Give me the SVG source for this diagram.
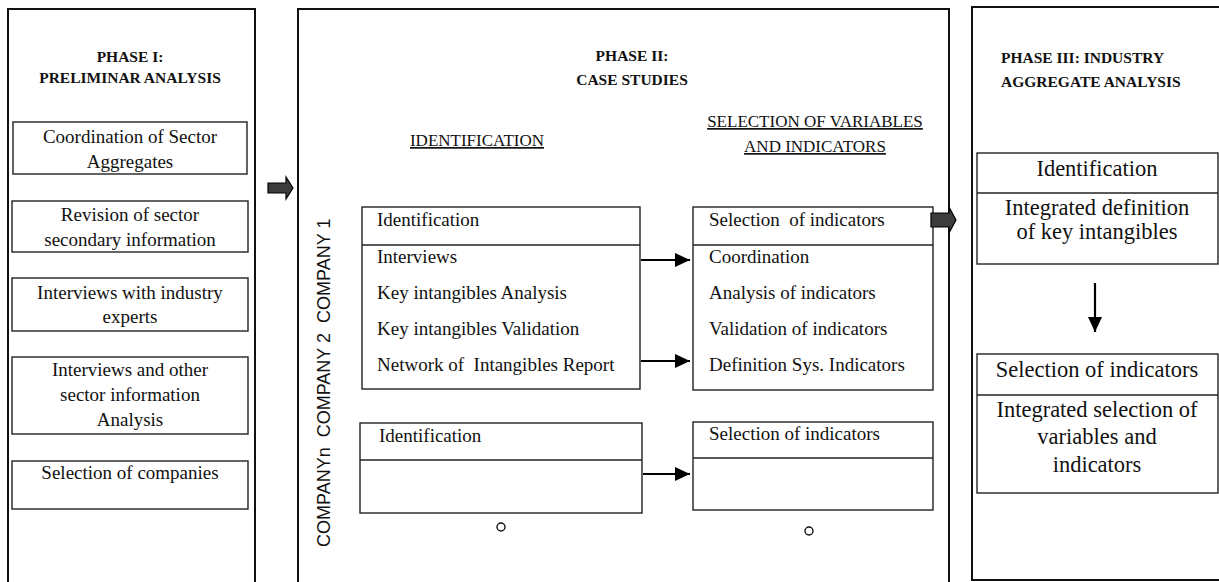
<svg xmlns="http://www.w3.org/2000/svg" width="1219" height="582" viewBox="0 0 1219 582">
<style>
.frame{fill:#fff;stroke:#111;stroke-width:2}
.box{fill:#fff;stroke:#222;stroke-width:1.4}
.t{font-family:"Liberation Serif","Times New Roman",serif;font-size:19px;fill:#111}
.tc{text-anchor:middle}
.big{font-size:22.5px}
.h{font-family:"Liberation Serif","Times New Roman",serif;font-size:15.5px;font-weight:bold;fill:#111}
.u{font-family:"Liberation Serif","Times New Roman",serif;font-size:17px;fill:#111;text-anchor:middle;text-decoration:underline}
.co{font-family:"Liberation Sans",Arial,sans-serif;font-size:18px;fill:#111}
.ln{stroke:#000;stroke-width:2.2;fill:none}
.blk{fill:#3c3c3c;stroke:#000;stroke-width:1.2}
</style>
<defs>
<marker id="ah" markerWidth="15" markerHeight="14" refX="15" refY="7" orient="auto" markerUnits="userSpaceOnUse" viewBox="0 0 15 14">
<path d="M0,0 L15,7 L0,14 Z" fill="#000"/>
</marker>
</defs>
<rect width="1219" height="582" fill="#fff"/>

<g id="phase1">
<rect class="frame" x="8" y="9" width="247" height="590"/>
<text class="h tc" x="130" y="62">PHASE I:</text>
<text class="h tc" x="130" y="83">PRELIMINAR ANALYSIS</text>
</g>
<g id="p1-coordination">
<rect class="box" x="13" y="122" width="234" height="52"/>
<text class="t tc" x="130" y="143">Coordination of Sector</text>
<text class="t tc" x="130" y="168">Aggregates</text>
</g>
<g id="p1-revision">
<rect class="box" x="12" y="201" width="236" height="51"/>
<text class="t tc" x="130" y="221">Revision of sector</text>
<text class="t tc" x="130" y="246">secondary information</text>
</g>
<g id="p1-interviews">
<rect class="box" x="12" y="278" width="236" height="53"/>
<text class="t tc" x="130" y="299">Interviews with industry</text>
<text class="t tc" x="130" y="323">experts</text>
</g>
<g id="p1-analysis">
<rect class="box" x="12" y="357" width="236" height="77"/>
<text class="t tc" x="130" y="376">Interviews and other</text>
<text class="t tc" x="130" y="401">sector information</text>
<text class="t tc" x="130" y="426">Analysis</text>
</g>
<g id="p1-selection">
<rect class="box" x="12" y="461" width="236" height="48"/>
<text class="t tc" x="130" y="479">Selection of companies</text>
</g>

<g id="phase2">
<rect class="frame" x="298" y="9" width="651" height="590"/>
<text class="h tc" x="632" y="61">PHASE II:</text>
<text class="h tc" x="632" y="85">CASE STUDIES</text>
<text class="u" x="477" y="146">IDENTIFICATION</text>
<text class="u" x="815" y="127">SELECTION OF VARIABLES</text>
<text class="u" x="815" y="152">AND INDICATORS</text>
<text class="co" transform="translate(330,547) rotate(-90)" xml:space="preserve">COMPANYn  COMPANY 2  COMPANY 1</text>
</g>
<g id="c1-identification">
<rect class="box" x="362" y="207" width="278" height="182"/>
<line class="box" x1="362" y1="245" x2="640" y2="245"/>
<text class="t" x="377" y="226">Identification</text>
<text class="t" x="377" y="263">Interviews</text>
<text class="t" x="377" y="299">Key intangibles Analysis</text>
<text class="t" x="377" y="335">Key intangibles Validation</text>
<text class="t" x="377" y="371" xml:space="preserve">Network of  Intangibles Report</text>
</g>
<g id="c1-selection">
<rect class="box" x="693" y="207" width="240" height="183"/>
<line class="box" x1="693" y1="245" x2="933" y2="245"/>
<text class="t" x="709" y="226" xml:space="preserve">Selection  of indicators</text>
<text class="t" x="709" y="263">Coordination</text>
<text class="t" x="709" y="299">Analysis of indicators</text>
<text class="t" x="709" y="335">Validation of indicators</text>
<text class="t" x="709" y="371">Definition Sys. Indicators</text>
</g>
<g id="cn-identification">
<rect class="box" x="360" y="423" width="282" height="90"/>
<line class="box" x1="360" y1="460" x2="642" y2="460"/>
<text class="t" x="379" y="442">Identification</text>
<circle cx="501" cy="527" r="4" fill="none" stroke="#111" stroke-width="1.4"/>
</g>
<g id="cn-selection">
<rect class="box" x="693" y="422" width="240" height="88"/>
<line class="box" x1="693" y1="458" x2="933" y2="458"/>
<text class="t" x="709" y="440">Selection of indicators</text>
<circle cx="809" cy="531" r="4" fill="none" stroke="#111" stroke-width="1.4"/>
</g>

<g id="phase3">
<rect class="frame" x="972" y="7" width="260" height="573"/>
<text class="h" x="1001" y="63">PHASE III: INDUSTRY</text>
<text class="h" x="1001" y="87">AGGREGATE ANALYSIS</text>
</g>
<g id="p3-identification">
<rect class="box" x="977" y="153" width="241" height="111"/>
<line class="box" x1="977" y1="193" x2="1218" y2="193"/>
<text class="t tc big" x="1097" y="176">Identification</text>
<text class="t tc big" x="1097" y="215">Integrated definition</text>
<text class="t tc big" x="1097" y="239">of key intangibles</text>
</g>
<g id="p3-selection">
<rect class="box" x="977" y="354" width="241" height="139"/>
<line class="box" x1="977" y1="395" x2="1218" y2="395"/>
<text class="t tc big" x="1097" y="377">Selection of indicators</text>
<text class="t tc big" x="1097" y="417">Integrated selection of</text>
<text class="t tc big" x="1097" y="444">variables and</text>
<text class="t tc big" x="1097" y="472">indicators</text>
</g>

<g id="connectors">
<path class="blk" d="M268,183 L286,183 L286,177 L293,188 L286,199 L286,193 L268,193 Z"/>
<path class="blk" d="M931,213 L949,213 L949,207 L956,220 L949,233 L949,227 L931,227 Z"/>
<line class="ln" x1="641" y1="260" x2="690" y2="260" marker-end="url(#ah)"/>
<line class="ln" x1="641" y1="361" x2="690" y2="361" marker-end="url(#ah)"/>
<line class="ln" x1="643" y1="474" x2="690" y2="474" marker-end="url(#ah)"/>
<line class="ln" x1="1095" y1="283" x2="1095" y2="332" marker-end="url(#ah)"/>
</g>
</svg>
